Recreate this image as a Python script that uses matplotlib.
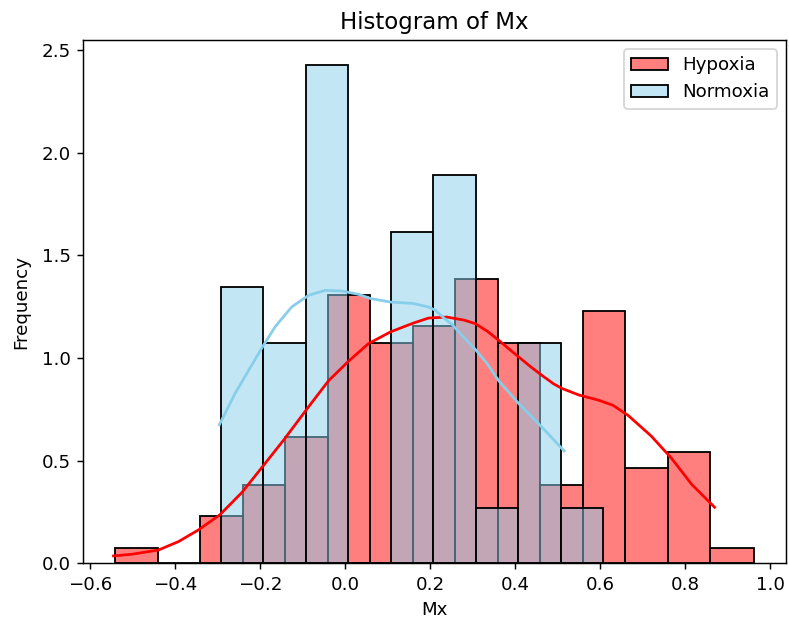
import matplotlib
matplotlib.use("Agg")
import matplotlib.pyplot as plt
import numpy as np

# ---- data (density values) ----
hyp_edges = [-0.541, -0.441, -0.341, -0.241, -0.141, -0.041, 0.059, 0.159,
             0.259, 0.359, 0.459, 0.559, 0.659, 0.759, 0.859, 0.962]
hyp_density = [0.075, 0.0, 0.23, 0.38, 0.615, 1.305, 1.075, 1.155,
               1.385, 1.075, 0.38, 1.228, 0.464, 0.541, 0.075]

nor_edges = [-0.293, -0.193, -0.093, 0.007, 0.107, 0.207, 0.307, 0.407, 0.507, 0.607]
nor_density = [1.347, 1.075, 2.429, 0.0, 1.616, 1.893, 0.268, 1.075, 0.268]

hyp_kde_x = [-0.545, -0.502, -0.439, -0.392, -0.345, -0.295, -0.243, -0.204,
             -0.145, -0.086, -0.039, 0.008, 0.055, 0.107, 0.161, 0.196, 0.239,
             0.28, 0.306, 0.335, 0.361, 0.385, 0.408, 0.435, 0.462, 0.49, 0.51,
             0.55, 0.596, 0.63, 0.666, 0.72, 0.768, 0.815, 0.869]
hyp_kde_y = [0.036, 0.044, 0.065, 0.106, 0.163, 0.236, 0.345, 0.446,
             0.60, 0.763, 0.89, 0.985, 1.071, 1.128, 1.171, 1.195, 1.200,
             1.185, 1.168, 1.13, 1.087, 1.045, 1.006, 0.96, 0.917, 0.875, 0.852,
             0.82, 0.795, 0.77, 0.72, 0.62, 0.511, 0.385, 0.273]

nor_kde_x = [-0.296, -0.259, -0.22, -0.192, -0.165, -0.126, -0.086, -0.047,
             -0.008, 0.031, 0.06, 0.107, 0.161, 0.196, 0.212, 0.235, 0.251,
             0.275, 0.308, 0.335, 0.361, 0.408, 0.462, 0.515]
nor_kde_y = [0.675, 0.828, 0.965, 1.063, 1.152, 1.249, 1.306, 1.330,
             1.327, 1.311, 1.29, 1.273, 1.266, 1.249, 1.233, 1.19, 1.165,
             1.11, 1.038, 0.97, 0.89, 0.779, 0.665, 0.548]

groups = ["Hypoxia", "Normoxia"]
colors = ["red", "skyblue"]

DPI = 131
fig = plt.figure(figsize=(789 / DPI, 625 / DPI), dpi=DPI)
ax = fig.add_axes([0.1056, 0.0987, 0.8906, 0.8373])

handles = []
for edges, dens, col, lab in [(hyp_edges, hyp_density, colors[0], groups[0]),
                              (nor_edges, nor_density, colors[1], groups[1])]:
    e = np.asarray(edges)
    widths = np.diff(e)
    bars = ax.bar(e[:-1], dens, width=widths, align="edge",
                  facecolor=matplotlib.colors.to_rgba(col, 0.5),
                  edgecolor="black", linewidth=1.0, label=lab)
    handles.append(bars)

ax.plot(hyp_kde_x, hyp_kde_y, color=colors[0], linewidth=1.5)
ax.plot(nor_kde_x, nor_kde_y, color=colors[1], linewidth=1.5)

ax.set_xlim(-0.616, 1.037)
ax.set_ylim(0, 2.55)
ax.set_xticks([-0.6, -0.4, -0.2, 0.0, 0.2, 0.4, 0.6, 0.8, 1.0])
ax.set_title("Histogram of Mx", fontsize=12.6)
ax.set_xlabel("Mx")
ax.set_ylabel("Frequency", labelpad=6)
ax.legend(handles=handles, labels=groups, loc="upper right")

fig.savefig("out.png", dpi=DPI)
